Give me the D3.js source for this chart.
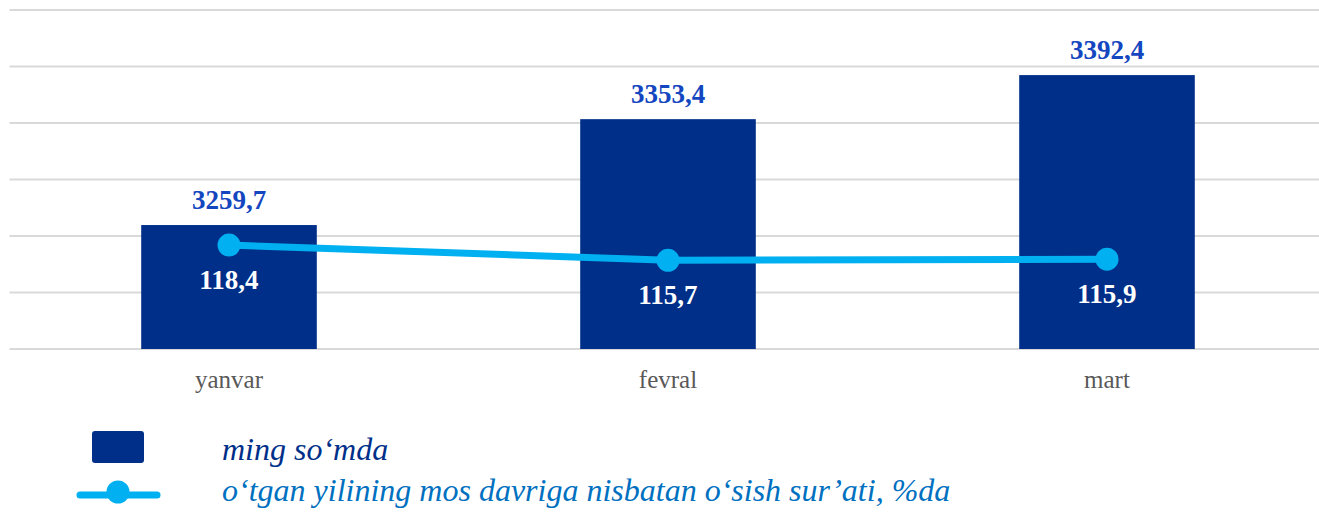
<!DOCTYPE html>
<html>
<head>
<meta charset="utf-8">
<script src="https://cdn.jsdelivr.net/npm/d3@7"></script>
<style>
  html, body { margin: 0; padding: 0; background: #fff; }
  svg { display: block; }
</style>
</head>
<body>
<svg id="chart" width="1319" height="512"></svg>
<script>
const categories = ["yanvar", "fevral", "mart"];
const barValues = [3259.7, 3353.4, 3392.4];
const lineValues = [118.4, 115.7, 115.9];
const gridTicks = [3150, 3200, 3250, 3300, 3350, 3400, 3450];
const legendLabels = ["ming so\u2018mda", "o\u2018tgan yilining mos davriga nisbatan o\u2018sish sur\u2019ati, %da"];

const fmt = v => v.toFixed(1).replace(".", ",");

const svg = d3.select("#chart");
const plot = { left: 9.5, right: 1326.5, top: 10, bottom: 349 };

const x = d3.scaleBand().domain(categories).range([plot.left, plot.right]).paddingInner(0.6).paddingOuter(0.3);
const y = d3.scaleLinear().domain([3150, 3450]).range([plot.bottom, plot.top]);
const y2 = d3.scaleLinear().domain([100, 160]).range([plot.bottom, plot.top]);

// gridlines
svg.append("g").selectAll("line").data(gridTicks).join("line")
  .attr("x1", plot.left).attr("x2", plot.right)
  .attr("y1", d => y(d)).attr("y2", d => y(d))
  .attr("stroke", "#d9d9d9").attr("stroke-width", 2);

// bars
svg.append("g").selectAll("rect").data(barValues).join("rect")
  .attr("x", (d, i) => x(categories[i]))
  .attr("width", x.bandwidth())
  .attr("y", d => y(d))
  .attr("height", d => y(3150) - y(d))
  .attr("fill", "#002f8a");

// bar labels
svg.append("g").selectAll("text").data(barValues).join("text")
  .attr("x", (d, i) => x(categories[i]) + x.bandwidth() / 2)
  .attr("y", d => y(d) - 16)
  .attr("text-anchor", "middle")
  .attr("font-family", "'Liberation Serif', 'Times New Roman', serif")
  .attr("font-weight", "bold")
  .attr("font-size", 27)
  .attr("fill", "#1446c0")
  .text(d => fmt(d));

// x axis labels
svg.append("g").selectAll("text").data(categories).join("text")
  .attr("x", d => x(d) + x.bandwidth() / 2)
  .attr("y", 388)
  .attr("text-anchor", "middle")
  .attr("font-family", "'Liberation Serif', 'Times New Roman', serif")
  .attr("font-size", 25)
  .attr("fill", "#595959")
  .text(d => d);

// line
const cx = (d, i) => x(categories[i]) + x.bandwidth() / 2;
const line = d3.line().x((d, i) => cx(d, i)).y(d => y2(d));
svg.append("path").datum(lineValues)
  .attr("d", line)
  .attr("fill", "none")
  .attr("stroke", "#00b0f0")
  .attr("stroke-width", 7)
  .attr("stroke-linejoin", "round");

svg.append("g").selectAll("circle").data(lineValues).join("circle")
  .attr("cx", cx).attr("cy", d => y2(d)).attr("r", 11.5)
  .attr("fill", "#00b0f0");

svg.append("g").selectAll("text").data(lineValues).join("text")
  .attr("x", cx)
  .attr("y", d => y2(d) + 44)
  .attr("text-anchor", "middle")
  .attr("font-family", "'Liberation Serif', 'Times New Roman', serif")
  .attr("font-weight", "bold")
  .attr("font-size", 27)
  .attr("fill", "#ffffff")
  .text(d => fmt(d));

// legend
const lg = svg.append("g");
lg.append("rect").attr("x", 92).attr("y", 431).attr("width", 52).attr("height", 32).attr("rx", 3)
  .attr("fill", "#002f8a");
lg.append("line").attr("x1", 80).attr("x2", 157).attr("y1", 495).attr("y2", 495)
  .attr("stroke", "#00b0f0").attr("stroke-width", 7).attr("stroke-linecap", "round");
lg.append("circle").attr("cx", 118).attr("cy", 492).attr("r", 11.5).attr("fill", "#00b0f0");

lg.append("text").attr("x", 222).attr("y", 460)
  .attr("font-family", "'Liberation Serif', 'Times New Roman', serif")
  .attr("font-style", "italic").attr("font-size", 32)
  .attr("fill", "#002f8a").text(legendLabels[0]);
lg.append("text").attr("x", 222).attr("y", 501)
  .attr("font-family", "'Liberation Serif', 'Times New Roman', serif")
  .attr("font-style", "italic").attr("font-size", 32)
  .attr("fill", "#0070c0").text(legendLabels[1]);
</script>
</body>
</html>
